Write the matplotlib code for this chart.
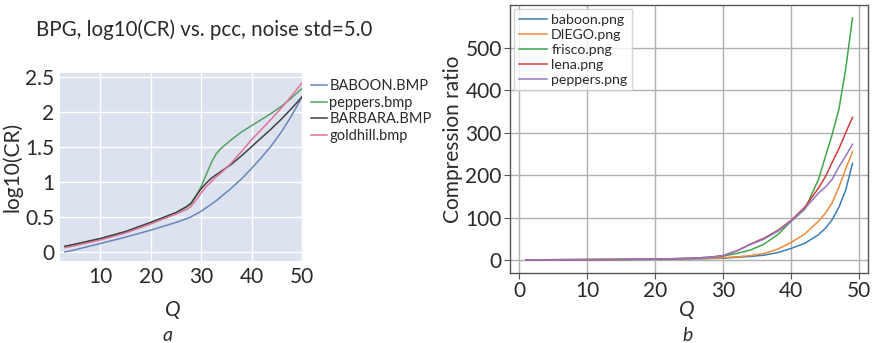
import matplotlib.pyplot as plt
from matplotlib.ticker import FuncFormatter

plt.rcParams['font.family'] = ['Lato', 'DejaVu Sans']

# panel a: BPG, log10(CR)
q_a = [3, 5, 10, 15, 20, 25, 27, 28, 29, 30, 31, 32, 33, 34, 36, 38, 40, 42, 44, 46, 48, 50]
baboon_bmp = [0.0, 0.03, 0.12, 0.21, 0.31, 0.42, 0.47, 0.5, 0.54, 0.58, 0.63, 0.68, 0.73, 0.79,
              0.91, 1.04, 1.19, 1.35, 1.52, 1.72, 1.95, 2.21]
peppers_bmp = [0.08, 0.11, 0.19, 0.29, 0.42, 0.56, 0.64, 0.7, 0.8, 0.93, 1.1, 1.27, 1.4, 1.48,
               1.6, 1.71, 1.8, 1.89, 1.98, 2.08, 2.2, 2.33]
barbara_bmp = [0.08, 0.11, 0.19, 0.29, 0.42, 0.56, 0.64, 0.69, 0.8, 0.9, 0.98, 1.05, 1.1, 1.15,
               1.25, 1.37, 1.5, 1.63, 1.76, 1.9, 2.05, 2.21]
goldhill_bmp = [0.06, 0.09, 0.17, 0.27, 0.4, 0.54, 0.6, 0.65, 0.74, 0.84, 0.93, 1.0, 1.07, 1.13,
                1.27, 1.43, 1.6, 1.75, 1.9, 2.06, 2.23, 2.41]
names_a = ['BABOON.BMP', 'peppers.bmp', 'BARBARA.BMP', 'goldhill.bmp']
colors_a = ['#6b84bc', '#55a060', '#404040', '#e0729a']

# panel b: compression ratio
q_b = [1, 5, 10, 15, 20, 25, 28, 30, 32, 34, 36, 38, 40, 42, 44, 45, 46, 47, 48, 49]
baboon_png = [1, 1.2, 1.4, 1.7, 2.1, 3, 4, 5, 7, 9, 12, 18, 28, 40, 60, 75, 95, 125, 165, 228]
diego_png = [1, 1.2, 1.5, 1.8, 2.3, 3.5, 5, 6, 8, 11, 16, 26, 42, 62, 92, 110, 135, 172, 215, 255]
frisco_png = [1, 1.3, 1.6, 2, 2.7, 4.5, 7, 10, 16, 24, 38, 60, 92, 120, 190, 243, 295, 355, 450, 570]
lena_png = [1, 1.3, 1.6, 2, 2.7, 4.5, 7, 11, 22, 38, 52, 70, 94, 125, 170, 196, 230, 262, 300, 336]
peppers_png = [1, 1.3, 1.6, 2, 2.7, 4.5, 7, 11, 22, 37, 50, 68, 92, 122, 158, 172, 190, 220, 245, 273]
names_b = ['baboon.png', 'DIEGO.png', 'frisco.png', 'lena.png', 'peppers.png']
colors_b = ['#3a7fb8', '#f08a3c', '#3fa64a', '#d33a3a', '#9575c0']

fig = plt.figure(figsize=(8.72, 3.43), dpi=100)

# --- panel a ---
ax1 = fig.add_axes([0.0688, 0.239, 0.2775, 0.548])
ax1.set_facecolor('#dce3ef')
for y, name, c in zip([baboon_bmp, peppers_bmp, barbara_bmp, goldhill_bmp], names_a, colors_a):
    ax1.plot(q_a, y, color=c, lw=1.1, label=name)
ax1.set_xlim(2, 50)
ax1.set_ylim(-0.13, 2.55)
ax1.set_xticks([10, 20, 30, 40, 50])
ax1.set_yticks([0, 0.5, 1, 1.5, 2, 2.5])
ax1.yaxis.set_major_formatter(FuncFormatter(lambda v, p: f'{v:g}'))
ax1.grid(True, color='white', lw=1)
ax1.set_axisbelow(True)
for s in ax1.spines.values():
    s.set_visible(False)
ax1.tick_params(length=0, labelsize=15, colors='#2a2a2a', pad=4)
ax1.set_ylabel('log10(CR)', fontsize=15, color='#2a2a2a', labelpad=2)
ax1.legend(loc='upper left', bbox_to_anchor=(0.99, 1.03), frameon=False, fontsize=10.5,
           handlelength=1.1, handletextpad=0.15, labelspacing=0.18, borderaxespad=0.4,
           labelcolor='#2a2a2a')
fig.text(0.234, 0.913, 'BPG, log10(CR) vs. pcc, noise std=5.0', ha='center', va='center',
         fontsize=14.8, color='#2a2a2a')
fig.text(0.198, 0.095, 'Q', ha='center', va='center', fontsize=15, style='italic', color='#2a2a2a')
fig.text(0.192, 0.022, 'a', ha='center', va='center', fontsize=14, style='italic', color='#2a2a2a')

# --- panel b ---
ax2 = fig.add_axes([0.585, 0.204, 0.4106, 0.781])
for y, name, c in zip([baboon_png, diego_png, frisco_png, lena_png, peppers_png], names_b, colors_b):
    ax2.plot(q_b, y, color=c, lw=1.1, label=name)
ax2.set_xlim(-1.3, 51.3)
ax2.set_ylim(-30, 600)
ax2.set_xticks([0, 10, 20, 30, 40, 50])
ax2.set_yticks([0, 100, 200, 300, 400, 500])
ax2.grid(True, color='#b0b0b0', lw=1)
ax2.set_axisbelow(True)
for s in ax2.spines.values():
    s.set_color('#555555')
    s.set_linewidth(1.0)
ax2.tick_params(length=4, width=0.8, color='#555555', labelsize=15, colors='#2a2a2a', pad=2)
ax2.tick_params(colors='#555555', which='both', labelcolor='#2a2a2a')
ax2.set_ylabel('Compression ratio', fontsize=15, color='#2a2a2a', labelpad=2)
ax2.legend(loc='upper left', fontsize=10.2, frameon=True, fancybox=False, edgecolor='#cccccc',
           handlelength=2.0, handletextpad=0.3, labelspacing=0.22, borderaxespad=0.3,
           borderpad=0.3, labelcolor='#2a2a2a')
fig.text(0.788, 0.095, 'Q', ha='center', va='center', fontsize=15, style='italic', color='#2a2a2a')
fig.text(0.788, 0.022, 'b', ha='center', va='center', fontsize=14, style='italic', color='#2a2a2a')

fig.savefig('out.png', dpi=100)
